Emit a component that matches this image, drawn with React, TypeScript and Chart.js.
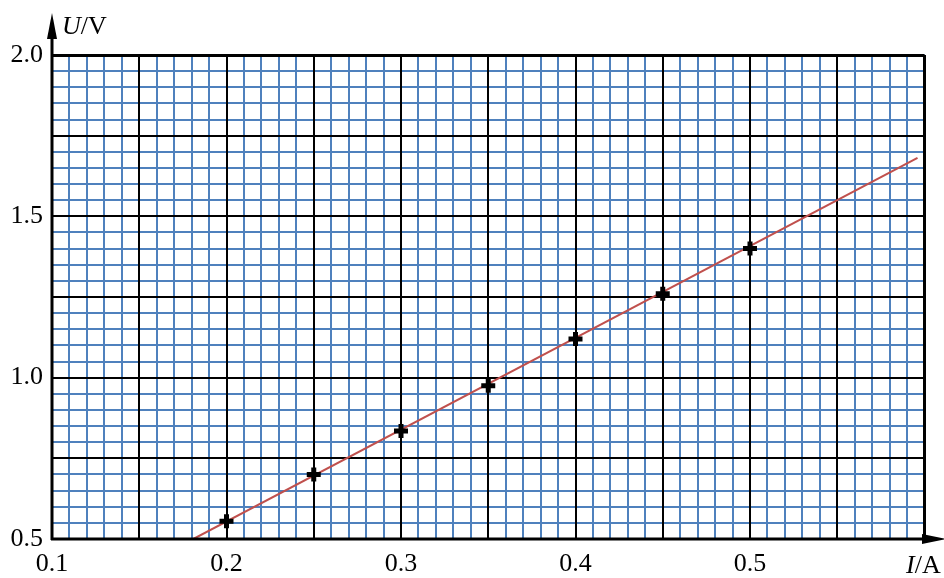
import { useEffect, useRef } from 'react';
import { Chart, registerables } from 'chart.js';

Chart.register(...registerables);

// Measured points (I in A, U in V)
const currentsA = [0.2, 0.25, 0.3, 0.35, 0.4, 0.45, 0.5];
const voltagesV = [0.555, 0.7, 0.835, 0.975, 1.12, 1.26, 1.4];
// Fitted straight line end points
const fitLineI = [0.181, 0.596];
const fitLineU = [0.5, 1.681];

const xRange = [0.1, 0.6];
const yRange = [0.5, 2.0];
const xSteps = { minor: 0.01, major: 0.05, label: 0.1 };
const ySteps = { minor: 0.05, major: 0.25, label: 0.5 };

const FONT = 'Liberation Serif';
const BLUE = '#4f81bd';
const RED = '#c0504d';

function makeTicks(min: number, max: number, step: number) {
  const n = Math.round((max - min) / step);
  return Array.from({ length: n + 1 }, (_, i) => ({ value: +(min + i * step).toFixed(6) }));
}

function isMultiple(v: number, step: number) {
  const r = v / step;
  return Math.abs(r - Math.round(r)) < 1e-6;
}

const axisDecor = {
  id: 'axisDecor',
  afterDraw(chart: any) {
    const { ctx, chartArea: a } = chart;
    ctx.save();
    ctx.strokeStyle = '#000';
    ctx.fillStyle = '#000';
    ctx.lineWidth = 3;
    // y axis with arrow
    ctx.beginPath();
    ctx.moveTo(a.left, a.bottom + 1);
    ctx.lineTo(a.left, 36);
    ctx.stroke();
    ctx.beginPath();
    ctx.moveTo(a.left, 13);
    ctx.lineTo(a.left - 5, 39);
    ctx.lineTo(a.left + 5, 39);
    ctx.closePath();
    ctx.fill();
    // x axis with arrow
    ctx.beginPath();
    ctx.moveTo(a.left - 1, a.bottom);
    ctx.lineTo(926, a.bottom);
    ctx.stroke();
    ctx.beginPath();
    ctx.moveTo(946, a.bottom);
    ctx.lineTo(922, a.bottom - 5);
    ctx.lineTo(922, a.bottom + 5);
    ctx.closePath();
    ctx.fill();
    // axis titles
    ctx.textBaseline = 'alphabetic';
    ctx.textAlign = 'left';
    ctx.font = `italic 26px ${FONT}`;
    ctx.fillText('U', 62, 34);
    let w = ctx.measureText('U').width;
    ctx.font = `26px ${FONT}`;
    ctx.fillText('/V', 62 + w, 34);
    ctx.font = `italic 26px ${FONT}`;
    ctx.fillText('I', 906, 573);
    w = ctx.measureText('I').width;
    ctx.font = `26px ${FONT}`;
    ctx.fillText('/A', 906 + w, 573);
    ctx.restore();
  },
};

export default function App() {
  const ref = useRef<HTMLCanvasElement | null>(null);

  useEffect(() => {
    document.body.style.margin = '0';
    const canvas = ref.current;
    if (!canvas) return;

    Chart.defaults.font.family = FONT;
    Chart.defaults.font.size = 26;
    const tickFont = { family: FONT, size: 26 };

    const chart = new Chart(canvas, {
      type: 'scatter',
      data: {
        datasets: [
          {
            label: 'measured',
            data: currentsA.map((x, i) => ({ x, y: voltagesV[i] })),
            pointStyle: 'cross',
            radius: 7,
            hoverRadius: 7,
            borderWidth: 5,
            borderColor: '#000',
            backgroundColor: '#000',
            showLine: false,
            xAxisID: 'x',
            yAxisID: 'y',
          },
          {
            label: 'fit',
            data: fitLineI.map((x, i) => ({ x, y: fitLineU[i] })),
            showLine: true,
            borderColor: RED,
            borderWidth: 2,
            pointRadius: 0,
            fill: false,
            xAxisID: 'x',
            yAxisID: 'y',
          },
        ],
      },
      options: {
        animation: false,
        responsive: true,
        maintainAspectRatio: false,
        layout: { padding: { left: 0, top: 55, right: 19.5, bottom: 0 } },
        plugins: {
          legend: { display: false },
          tooltip: { enabled: false },
          title: { display: false },
        },
        events: [],
        scales: {
          x: {
            type: 'linear',
            position: 'bottom',
            min: xRange[0],
            max: xRange[1],
            afterBuildTicks: (s: any) => {
              s.ticks = makeTicks(xRange[0], xRange[1], xSteps.minor);
            },
            afterFit: (s: any) => {
              s.height = 39;
            },
            grid: { color: BLUE, lineWidth: 2, drawTicks: false, z: -2 },
            border: { display: false },
            ticks: {
              autoSkip: false,
              maxRotation: 0,
              padding: 10,
              color: '#000',
              font: tickFont,
              callback: (v: any) => {
                const n = Number(v);
                return isMultiple(n, xSteps.label) && n < xRange[1] - 1e-6 ? n.toFixed(1) : '';
              },
            },
          },
          xMajor: {
            type: 'linear',
            position: 'bottom',
            min: xRange[0],
            max: xRange[1],
            afterBuildTicks: (s: any) => {
              s.ticks = makeTicks(xRange[0], xRange[1], xSteps.major);
            },
            afterFit: (s: any) => {
              s.height = 0;
            },
            grid: {
              color: '#000',
              lineWidth: (c: any) => (c.index === 10 ? 3 : 2),
              drawTicks: false,
              z: -1,
            },
            border: { display: false },
            ticks: { display: false },
          },
          y: {
            type: 'linear',
            position: 'left',
            min: yRange[0],
            max: yRange[1],
            afterBuildTicks: (s: any) => {
              s.ticks = makeTicks(yRange[0], yRange[1], ySteps.minor);
            },
            afterFit: (s: any) => {
              s.width = 52;
            },
            grid: { color: BLUE, lineWidth: 2, drawTicks: false, z: -2 },
            border: { display: false },
            ticks: {
              autoSkip: false,
              padding: 9,
              color: '#000',
              font: tickFont,
              callback: (v: any) => {
                const n = Number(v);
                return isMultiple(n, ySteps.label) ? n.toFixed(1) : '';
              },
            },
          },
          yMajor: {
            type: 'linear',
            position: 'left',
            min: yRange[0],
            max: yRange[1],
            afterBuildTicks: (s: any) => {
              s.ticks = makeTicks(yRange[0], yRange[1], ySteps.major);
            },
            afterFit: (s: any) => {
              s.width = 0;
            },
            grid: {
              color: '#000',
              lineWidth: (c: any) => (c.index === 6 ? 3 : 2),
              drawTicks: false,
              z: -1,
            },
            border: { display: false },
            ticks: { display: false },
          },
        },
      },
      plugins: [axisDecor],
    } as any);

    return () => chart.destroy();
  }, []);

  return (
    <div style={{ position: 'relative', width: 944, height: 578 }}>
      <canvas ref={ref} />
    </div>
  );
}
